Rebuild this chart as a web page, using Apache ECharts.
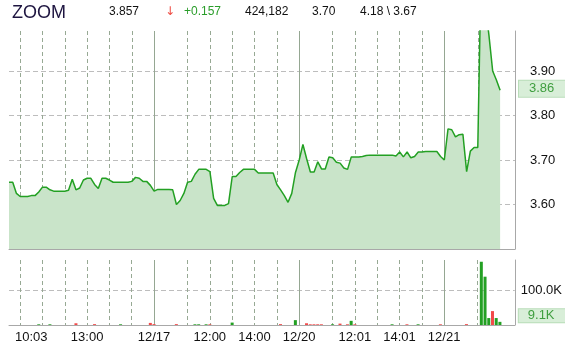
<!DOCTYPE html>
<html><head><meta charset="utf-8">
<script src="https://cdn.jsdelivr.net/npm/echarts@6/dist/echarts.min.js"></script>
<style>html,body{margin:0;padding:0;background:#fff}#c{width:565px;height:350px}</style>
</head><body><div id="c"></div>
<script>
// ---- header values ----
const ticker = 'ZOOM';
const lastPrice = '3.857';
const changeText = '+0.157';
const arrowText = '\u2193';
const volumeText = '424,182';
const openText = '3.70';
const hiLoText = '4.18 \\ 3.67';

// ---- axis / categories ----
const days = ['12/16', '12/17', '12/20', '12/21'];
const barsPerDay = 39;          // 10-minute bars 9:30-16:00
const axisSlots = 137;          // axis extends a little past the last bar
const hourIdx = [3, 9, 15, 21, 27, 33, 48, 54, 60, 66, 72, 87, 93, 99, 105, 111, 126];
const dayIdx = [39, 78, 117];
const xLabelIdx = [6, 21, 39, 54, 66, 78, 93, 105, 117];
const xLabelText = ['10:03', '13:00', '12/17', '12:00', '14:00', '12/20', '12:01', '14:01', '12/21'];
const priceTicks = [3.6, 3.7, 3.8, 3.9];

// ---- series values ----
const prices = [
  3.65, 3.65, 3.625, 3.618, 3.618, 3.618, 3.62, 3.62, 3.628, 3.639,
  3.639, 3.633, 3.63, 3.63, 3.63, 3.63, 3.632, 3.657, 3.633, 3.637,
  3.655, 3.659, 3.659, 3.645, 3.636, 3.659, 3.659, 3.655, 3.65, 3.65,
  3.65, 3.65, 3.65, 3.652, 3.661, 3.659, 3.652, 3.652, 3.643,
  3.63, 3.634, 3.634, 3.634, 3.634, 3.633, 3.60, 3.609, 3.625, 3.65,
  3.652, 3.668, 3.679, 3.679, 3.679, 3.674, 3.614, 3.598, 3.598, 3.598,
  3.602, 3.663, 3.663, 3.672, 3.679, 3.679, 3.679, 3.679, 3.671, 3.671,
  3.671, 3.671, 3.671, 3.645, 3.633, 3.62, 3.605, 3.625, 3.672,
  3.70, 3.735, 3.703, 3.673, 3.673, 3.696, 3.68, 3.68, 3.707, 3.705,
  3.695, 3.693, 3.682, 3.679, 3.707, 3.707, 3.707, 3.708, 3.71, 3.711,
  3.711, 3.711, 3.711, 3.711, 3.711, 3.711, 3.709, 3.718, 3.707, 3.718,
  3.705, 3.708, 3.718, 3.718, 3.719, 3.719, 3.719, 3.719, 3.708,
  3.70, 3.77, 3.768, 3.752, 3.757, 3.758, 3.674, 3.72, 3.728, 3.728,
  4.18, 4.05, 3.98, 3.90, 3.88, 3.857
];
const volumes = [
  0, 0, 0, 0, 0, 0, 0, 0, 2000, 0,
  0, 2000, 0, 0, 0, 0, 0, 0, 5000, 0,
  0, 0, 0, 2500, 0, 0, 0, 0, 0, 0,
  2000, 0, 0, 0, 0, 0, 0, 0, 6000, 2500,
  0, 0, 0, 0, 0, 2500, 0, 0, 0, 0,
  2000, 2000, 0, 2000, 2000, 0, 0, 0, 0, 0,
  7000, 0, 0, 0, 0, 0, 0, 0, 0, 0,
  0, 0, 0, 2500, 0, 0, 0, 14000, 0, 0,
  5000, 2000, 2000, 2000, 2000, 0, 0, 2000, 0, 4000,
  0, 2000, 12000, 2000, 0, 0, 0, 0, 0, 0,
  0, 0, 0, 2000, 0, 0, 0, 2000, 0, 0,
  2000, 0, 0, 0, 0, 0, 2000, 0, 0, 0,
  0, 0, 0, 2500, 0, 0, 0, 182000, 139000, 20000,
  40000, 20000, 9100
];
const volDownIdx = [18, 23, 38, 39, 45, 54, 73, 80, 81, 82, 83, 84, 89, 91, 93, 107, 116, 123, 130];

// ---- build categories ----
const categories = [];
days.forEach(d => {
  for (let k = 0; k < barsPerDay; k++) {
    const m = 570 + 10 * k;
    categories.push(d + ' ' + Math.floor(m / 60) + ':' + String(m % 60).padStart(2, '0'));
  }
});
categories.length = axisSlots;

const GREEN = '#23a023', RED = '#f24a4a';
const FONT = '"Liberation Sans", Arial, sans-serif';
const volData = volumes.map((v, i) => ({
  value: v,
  itemStyle: { color: volDownIdx.includes(i) ? RED : GREEN }
}));
const lastVol = volumes[volumes.length - 1];
const lastP = prices[prices.length - 1];

const dashV = { color: '#97a994', type: [4, 3], width: 1 };
const dashH = { color: '#bdbdbd', type: [5, 3], width: 1 };
const solidDay = { color: '#95a792', type: 'solid', width: 1 };

function catAxis(grid, extra) {
  return Object.assign({
    type: 'category', gridIndex: grid, data: categories, boundaryGap: false,
    axisLine: { show: false }, axisTick: { show: false }, axisLabel: { show: false },
    splitLine: { show: false }
  }, extra);
}

function tagLabel(text, pad, off) {
  return {
    show: true, position: 'end', distance: 4, offset: off,
    formatter: () => text,
    color: '#3f9e3f', fontSize: 13, fontFamily: FONT,
    backgroundColor: '#d8eed8', borderColor: '#b9ddb9', borderWidth: 1,
    padding: pad, opacity: 1
  };
}

const chart = echarts.init(document.getElementById('c'), null, { renderer: 'canvas' });
chart.setOption({
  animation: false,
  textStyle: { fontFamily: FONT },
  grid: [
    { left: 9, top: 31, width: 506, height: 218 },
    { left: 9, top: 260, width: 506, height: 65 }
  ],
  xAxis: [
    catAxis(0, {
      axisLine: { show: true, lineStyle: { color: '#a8a8a8' } },
      splitLine: { show: true, interval: (i) => hourIdx.includes(i), lineStyle: dashV }
    }),
    catAxis(1, {
      axisLine: { show: true, lineStyle: { color: '#a8a8a8' } },
      splitLine: { show: true, interval: (i) => hourIdx.includes(i), lineStyle: dashV },
      axisLabel: {
        show: true, interval: (i) => xLabelIdx.includes(i), margin: 6,
        color: '#111', fontSize: 13, fontFamily: FONT,
        formatter: (v, i) => xLabelText[xLabelIdx.indexOf(i)] || ''
      }
    }),
    catAxis(0, { position: 'top', splitLine: { show: true, interval: (i) => dayIdx.includes(i), lineStyle: solidDay } }),
    catAxis(1, { position: 'top', splitLine: { show: true, interval: (i) => dayIdx.includes(i), lineStyle: solidDay } })
  ],
  yAxis: [
    {
      type: 'value', gridIndex: 0, position: 'right', min: 3.5, max: 3.99, interval: 0.1,
      axisLine: { show: true, lineStyle: { color: '#a8a8a8' } },
      axisTick: { show: false },
      axisLabel: {
        margin: 15, color: '#111', fontSize: 13, fontFamily: FONT,
        showMinLabel: false, showMaxLabel: false,
        formatter: v => priceTicks.some(t => Math.abs(t - v) < 1e-6) ? v.toFixed(2) : ''
      },
      splitLine: { show: true, showMinLine: false, showMaxLine: false, lineStyle: dashH }
    },
    {
      type: 'value', gridIndex: 1, position: 'right', min: 0, max: 187000, interval: 100000,
      axisLine: { show: true, lineStyle: { color: '#a8a8a8' } },
      axisTick: { show: false },
      axisLabel: {
        margin: 6, color: '#111', fontSize: 13, fontFamily: FONT,
        showMinLabel: false, showMaxLabel: false,
        formatter: v => (v === 100000 ? (v / 1000).toFixed(1) + 'K' : '')
      },
      splitLine: { show: true, showMinLine: false, showMaxLine: false, lineStyle: dashH }
    }
  ],
  series: [
    {
      type: 'line', xAxisIndex: 0, yAxisIndex: 0, data: prices,
      symbol: 'none', smooth: false, clip: true,
      lineStyle: { color: GREEN, width: 1.5 },
      areaStyle: { color: '#c9e4c9', opacity: 1, origin: 'start' },
      markLine: {
        silent: true, symbol: 'none',
        lineStyle: { color: 'rgba(0,0,0,0)', width: 0 },
        data: [{ yAxis: lastP }],
        label: tagLabel(lastP.toFixed(2), [2, 20, 1, 10], [0, 0])
      }
    },
    {
      type: 'bar', xAxisIndex: 1, yAxisIndex: 1, data: volData, barWidth: 3,
      markLine: {
        silent: true, symbol: 'none',
        lineStyle: { color: 'rgba(0,0,0,0)', width: 0 },
        data: [{ yAxis: lastVol }],
        label: tagLabel((lastVol / 1000).toFixed(1) + 'K', [0, 20, 0, 9], [0, -6])
      }
    }
  ],
  graphic: [
    { type: 'text', x: 12, y: 13, style: { text: ticker, font: '18px ' + FONT, fill: '#1e1540', verticalAlign: 'middle' } },
    { type: 'text', x: 109, y: 12, style: { text: lastPrice, font: '12px ' + FONT, fill: '#111', verticalAlign: 'middle' } },
    { type: 'text', x: 165, y: 12, style: { text: arrowText, font: '12px "DejaVu Sans", sans-serif', fill: '#ee4a40', verticalAlign: 'middle' } },
    { type: 'text', x: 184, y: 12, style: { text: changeText, font: '12px ' + FONT, fill: '#2a9d2a', verticalAlign: 'middle' } },
    { type: 'text', x: 245, y: 12, style: { text: volumeText, font: '12px ' + FONT, fill: '#111', verticalAlign: 'middle' } },
    { type: 'text', x: 312, y: 12, style: { text: openText, font: '12px ' + FONT, fill: '#111', verticalAlign: 'middle' } },
    { type: 'text', x: 360, y: 12, style: { text: hiLoText, font: '12px ' + FONT, fill: '#111', verticalAlign: 'middle' } }
  ]
});
</script></body></html>
